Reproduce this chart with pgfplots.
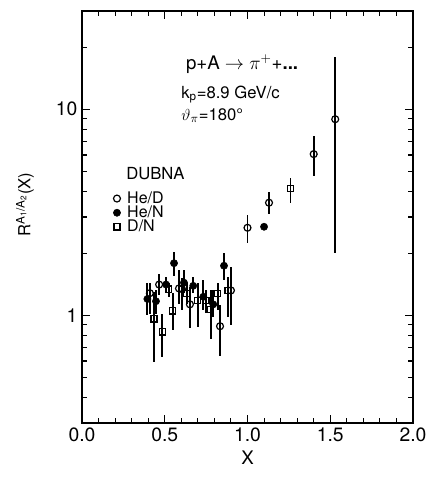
\documentclass[border=0pt]{standalone}
\usepackage{fontspec}
\setmainfont{TeX Gyre Heros}
\usepackage{pgfplots}
\usepackage{pgfplotstable}
\pgfplotsset{compat=1.18}

% He/D, open circles
\pgfplotstableread{
x     y     ep    em
0.410 1.28  0.16  0.26
0.466 1.41  0.17  0.16
0.586 1.35  0.30  0.21
0.604 1.34  0.17  0.28
0.652 1.13  0.24  0.26
0.834 0.885 0.24  0.25
0.900 1.32  0.39  0.42
1.000 2.66  0.42  0.41
1.130 3.52  0.45  0.41
1.400 6.06  1.34  1.31
1.530 8.95  9.05  6.94
}\hed
% He/N, filled circles
\pgfplotstableread{
x     y     ep    em
0.395 1.20  0.23  0.20
0.447 1.17  0.16  0.15
0.508 1.41  0.12  0.13
0.556 1.79  0.23  0.23
0.616 1.44  0.21  0.16
0.672 1.39  0.15  0.11
0.733 1.23  0.25  0.17
0.793 1.13  0.19  0.15
0.858 1.74  0.27  0.26
1.100 2.69  0.04  0.04
}\hen
% D/N, open squares
\pgfplotstableread{
x     y     ep    em
0.435 0.96  0.34  0.37
0.485 0.83  0.19  0.20
0.524 1.34  0.09  0.12
0.548 1.05  0.23  0.20
0.634 1.28  0.15  0.14
0.699 1.18  0.25  0.30
0.749 1.18  0.15  0.15
0.777 1.07  0.25  0.30
0.820 1.28  0.15  0.22
0.882 1.32  0.21  0.34
1.260 4.11  0.53  0.59
}\dn

\begin{document}
\begin{tikzpicture}
\useasboundingbox (-61.5pt,-40.5pt) rectangle (258pt,317.25pt);
\begin{axis}[
    at={(0,0)}, anchor=south west,
    scale only axis,
    width=248.25pt, height=309pt,
    ymode=log,
    xmin=0, xmax=2, ymin=0.3, ymax=30,
    xtick={0,0.5,...,2},
    minor x tick num=4,
    ytick={1,10}, yticklabels={1,10},
    minor ytick={0.3,0.4,0.5,0.6,0.7,0.8,0.9,2,3,4,5,6,7,8,9,20},
    tick align=inside,
    major tick length=6pt, minor tick length=3.5pt,
    tick style={black, line width=0.8pt},
    axis line style={line width=1.1pt},
    /pgf/number format/assume math mode=true,
    xticklabel style={/pgf/number format/.cd, fixed, fixed zerofill, precision=1},
    ticklabel style={font=\fontsize{14.5}{16}\selectfont},
    xlabel={X},
    xlabel style={font=\fontsize{14}{16}\selectfont},
    ylabel={R\textsuperscript{A\textsubscript{1}/A\textsubscript{2}}(X)},
    ylabel style={font=\fontsize{12.5}{14}\selectfont, at={(axis description cs:-0.172,0.53)}, anchor=center},
    legend style={at={(axis description cs:0.094,0.562)}, anchor=north west,
        draw=none, fill=none, inner sep=0pt, font=\fontsize{12}{13}\selectfont,
        row sep=0.4pt, nodes={inner sep=0pt},
        /tikz/every odd column/.append style={column sep=5pt}},
    legend cell align=left,
    error bars/y dir=both,
    error bars/y explicit,
    error bars/error mark=none,
    error bars/error bar style={line width=1.4pt, black},
]
\addplot[only marks, mark=o, mark size=2.6pt, mark options={line width=0.9pt, black}]
  table[x=x, y=y, y error plus=ep, y error minus=em] {\hed};
\addplot[only marks, mark=*, mark size=2.7pt, mark options={black, fill=black}]
  table[x=x, y=y, y error plus=ep, y error minus=em] {\hen};
\addplot[only marks, mark=square, mark size=2.3pt, mark options={line width=0.9pt, black}]
  table[x=x, y=y, y error plus=ep, y error minus=em] {\dn};
\legend{He/D, He/N, D/N}
\node[anchor=west, font=\fontsize{14}{16}\selectfont] at (axis cs:0.60,16.5)
  {p+A $\rightarrow$ $\pi^{+}$+\textbf{...}};
\node[anchor=west, font=\fontsize{12.5}{14}\selectfont] at (axis cs:0.572,11.8)
  {k\textsubscript{p}=8.9 GeV/c};
\node[anchor=west, font=\fontsize{12.5}{14}\selectfont] at (axis cs:0.572,9.35)
  {$\vartheta_{\pi}$=180°};
\node[anchor=west, font=\fontsize{12.5}{14}\selectfont] at (axis cs:0.239,4.85)
  {DUBNA};
\end{axis}
\end{tikzpicture}
\end{document}
